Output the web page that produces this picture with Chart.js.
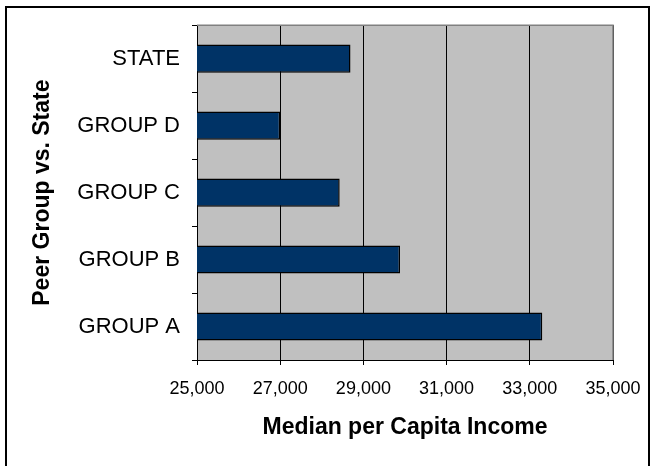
<!DOCTYPE html>
<html lang="en">
<head>
<meta charset="UTF-8">
<title>Median per Capita Income</title>
<script src="https://cdn.jsdelivr.net/npm/chart.js"></script>
<style>
    html, body { margin: 0; padding: 0; background: #fff; }
    #wrap { width: 655px; height: 466px; }
</style>
</head>
<body>
<div id="wrap"><canvas id="incomeChart" width="655" height="466"></canvas></div>
<script>
// values (bottom to top)
const groups = ['GROUP A', 'GROUP B', 'GROUP C', 'GROUP D', 'STATE'];
const income = [33300, 29880, 28430, 27000, 28690];
const xMin = 25000;
const xMax = 35000;
const xStep = 2000;

const FONT = "'Liberation Sans', Arial, sans-serif";

// gray plot area + outer frame, like the old Excel chart
const excelLook = {
    id: 'excelLook',
    beforeDraw(chart) {
        const { ctx, chartArea: a } = chart;
        ctx.save();
        ctx.fillStyle = '#c0c0c0';
        ctx.fillRect(a.left, a.top, a.right - a.left, a.bottom - a.top);
        ctx.restore();
    },
    afterDraw(chart) {
        const { ctx, chartArea: a } = chart;
        ctx.save();
        ctx.strokeStyle = '#808080';
        ctx.lineWidth = 1.5;
        ctx.beginPath();
        ctx.moveTo(a.left, a.top);
        ctx.lineTo(a.right, a.top);
        ctx.lineTo(a.right, a.bottom);
        ctx.stroke();
        ctx.strokeStyle = '#000';
        ctx.lineWidth = 2;
        ctx.strokeRect(6, 7, 643, 470);
        ctx.restore();
    }
};

new Chart(document.getElementById('incomeChart'), {
    type: 'bar',
    data: {
        labels: groups,
        datasets: [{
            data: income,
            backgroundColor: '#003366',
            borderColor: '#000',
            borderWidth: 1.5,
            borderSkipped: false,
            categoryPercentage: 1,
            barPercentage: 0.42
        }]
    },
    options: {
        indexAxis: 'y',
        responsive: false,
        animation: false,
        layout: { padding: { top: 25, right: 42, left: 0, bottom: 0 } },
        plugins: {
            legend: { display: false },
            tooltip: { enabled: false }
        },
        scales: {
            x: {
                min: xMin,
                max: xMax,
                ticks: {
                    stepSize: xStep,
                    color: '#000',
                    padding: 13,
                    font: { family: FONT, size: 18 },
                    callback: v => v.toLocaleString('en-US')
                },
                grid: { color: '#000', lineWidth: 1, tickLength: 5 },
                border: { color: '#000', width: 1 },
                title: {
                    display: true,
                    text: 'Median per Capita Income',
                    color: '#000',
                    font: { family: FONT, size: 23, weight: 'bold' },
                    padding: { top: 0, bottom: 25 }
                },
                afterFit(s) { s.height = 106; }
            },
            y: {
                reverse: true,
                ticks: {
                    color: '#000',
                    padding: 12,
                    font: { family: FONT, size: 22 }
                },
                grid: { drawOnChartArea: false, color: '#000', tickLength: 5, offset: true },
                border: { color: '#000', width: 1 },
                title: {
                    display: true,
                    text: 'Peer Group vs. State',
                    color: '#000',
                    font: { family: FONT, size: 23, weight: 'bold' },
                    padding: { top: 29, bottom: 0 }
                },
                afterFit(s) { s.width = 197; }
            }
        }
    },
    plugins: [excelLook]
});
</script>
</body>
</html>
